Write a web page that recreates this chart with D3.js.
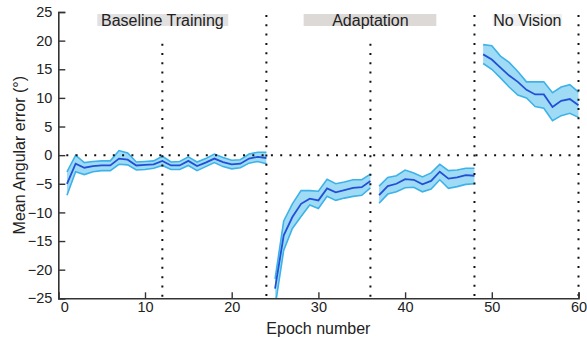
<!DOCTYPE html>
<html><head><meta charset="utf-8">
<script src="https://cdn.jsdelivr.net/npm/d3@7/dist/d3.min.js"></script>
<style>
body{margin:0;background:#fff;}
text{font-family:"Liberation Sans",Arial,sans-serif;fill:#222;}
</style></head>
<body><svg id="c" width="587" height="337"></svg>
<script>
// ---- data ----
const baseEpochs = d3.range(1, 25);
const baseMean  = [-5.0,-1.5,-2.2,-1.9,-1.8,-1.8,-0.6,-0.8,-1.8,-1.7,-1.6,-1.0,-1.8,-1.8,-1.0,-1.9,-1.3,-0.6,-1.2,-1.6,-1.5,-0.6,-0.3,-0.5];
const baseUpper = [-2.9,0.0,-1.3,-1.1,-1.0,-1.0,0.8,0.4,-1.2,-1.1,-1.0,-0.2,-1.2,-1.1,-0.3,-1.2,-0.6,0.2,-0.4,-0.9,-0.8,0.2,0.5,0.5];
const baseLower = [-7.0,-2.9,-3.4,-2.9,-2.7,-2.7,-1.6,-1.7,-2.6,-2.5,-2.3,-1.8,-2.5,-2.5,-1.8,-2.7,-2.0,-1.3,-2.0,-2.4,-2.2,-1.4,-1.1,-1.5];

const adaptAEpochs = d3.range(25, 37);
const adaptAMean  = [-23.3,-14.0,-10.8,-8.5,-7.6,-7.9,-5.8,-6.5,-6.1,-5.7,-5.6,-4.5];
const adaptAUpper = [-21.6,-11.5,-8.5,-6.2,-6.2,-6.3,-4.2,-5.0,-4.7,-4.3,-4.3,-3.3];
const adaptALower = [-26.5,-16.6,-12.8,-10.7,-8.7,-9.3,-7.2,-7.9,-7.5,-7.2,-7.0,-5.7];

const adaptBEpochs = d3.range(37, 49);
const adaptBMean  = [-7.0,-5.4,-5.0,-4.2,-4.3,-5.1,-4.5,-2.9,-4.1,-3.9,-3.5,-3.6];
const adaptBUpper = [-5.4,-3.9,-3.6,-2.6,-3.1,-3.8,-3.1,-1.6,-2.7,-2.6,-2.3,-2.3];
const adaptBLower = [-8.4,-6.8,-6.4,-5.7,-5.6,-6.4,-5.9,-4.3,-5.8,-5.5,-5.1,-5.0];

const noVisEpochs = d3.range(49, 61);
const noVisMean  = [17.6,16.7,15.3,13.9,12.8,11.4,10.6,10.6,8.4,9.5,9.8,8.7];
const noVisUpper = [19.3,19.1,17.3,16.2,14.6,12.8,12.8,12.8,10.9,11.9,12.3,11.0];
const noVisLower = [16.0,15.0,13.5,11.9,10.5,10.0,8.5,8.2,6.0,6.9,7.3,6.6];

const xTicks = [0,10,20,30,40,50,60];
const yTicks = [-25,-20,-15,-10,-5,0,5,10,15,20,25];
const phases = [
  {label:"Baseline Training", x:12.0, box:[4.5,19.6], fill:"#e2e1e1"},
  {label:"Adaptation", x:36.0, box:[28.3,43.6], fill:"#dcd9d7"},
  {label:"No Vision", x:54.1, box:[50.1,58.1], fill:"#f0f0f0"}
];
const fullLines = [24,48,60];
const partLines = [12,36];

// ---- chart ----
const svg = d3.select("#c");
const x = d3.scaleLinear().domain([0,60]).range([58.3,578.5]);
const y = d3.scaleLinear().domain([-25,25]).range([298.3,12]);

svg.append("defs").append("clipPath").attr("id","clip")
  .append("rect").attr("x",58.3).attr("y",12).attr("width",540).attr("height",286.3);

const segs = [
  [baseEpochs, baseMean, baseUpper, baseLower],
  [adaptAEpochs, adaptAMean, adaptAUpper, adaptALower],
  [adaptBEpochs, adaptBMean, adaptBUpper, adaptBLower],
  [noVisEpochs, noVisMean, noVisUpper, noVisLower]
];

const g = svg.append("g").attr("clip-path","url(#clip)");
segs.forEach(([ep, m, up, lo]) => {
  const pts = ep.map((e,i)=>({e, m:m[i], u:up[i], l:lo[i]}));
  g.append("path").datum(pts)
    .attr("d", d3.area().x(d=>x(d.e)).y0(d=>y(d.l)).y1(d=>y(d.u)))
    .attr("fill","#a0dbf6").attr("stroke","none");
  g.append("path").datum(pts)
    .attr("d", d3.line().x(d=>x(d.e)).y(d=>y(d.u)))
    .attr("fill","none").attr("stroke","#3db2e8").attr("stroke-width",1.6);
  g.append("path").datum(pts)
    .attr("d", d3.line().x(d=>x(d.e)).y(d=>y(d.l)))
    .attr("fill","none").attr("stroke","#3db2e8").attr("stroke-width",1.6);
  g.append("path").datum(pts)
    .attr("d", d3.line().x(d=>x(d.e)).y(d=>y(d.m)))
    .attr("fill","none").attr("stroke","#2150d6").attr("stroke-width",1.8);
});

// dotted reference lines
const dot = sel => sel.attr("stroke","#111").attr("stroke-width",2).attr("stroke-dasharray","2,7.3");
svg.append("line").attr("x1",x(0)+8).attr("x2",x(60.3)).attr("y1",y(0)).attr("y2",y(0)).call(dot);
fullLines.forEach(v=>svg.append("line").attr("x1",x(v)).attr("x2",x(v)).attr("y1",15).attr("y2",y(-25)).call(dot));
partLines.forEach(v=>svg.append("line").attr("x1",x(v)).attr("x2",x(v)).attr("y1",y(20)+3).attr("y2",y(-25)).call(dot));

// phase labels
phases.forEach(p=>{
  svg.append("rect").attr("x",x(p.box[0])).attr("width",x(p.box[1])-x(p.box[0]))
    .attr("y",14).attr("height",12).attr("fill",p.fill);
  svg.append("text").attr("x",x(p.x)).attr("y",25.5).attr("text-anchor","middle")
    .attr("font-size",16).text(p.label);
});

// axes
const xAxis = svg.append("g").attr("transform",`translate(0,${y(-25)})`)
  .call(d3.axisBottom(x).tickValues(xTicks).tickSize(-6).tickPadding(3));
const yAxis = svg.append("g").attr("transform",`translate(${x(0)},0)`)
  .call(d3.axisLeft(y).tickValues(yTicks).tickSize(-7).tickPadding(6));
[xAxis,yAxis].forEach(a=>{
  a.select(".domain").attr("stroke","#333").attr("stroke-width",1.6);
  a.selectAll(".tick line").attr("stroke","#333").attr("stroke-width",1.4);
  a.selectAll(".tick text").attr("font-size",14.5).attr("fill","#222")
    .attr("font-family","'Liberation Sans',Arial,sans-serif");
});
xAxis.selectAll(".tick text").filter(d=>d===0).attr("dx",6);

svg.append("text").attr("x",x(30)).attr("y",333.5).attr("text-anchor","middle")
  .attr("font-size",16).text("Epoch number");
svg.append("text").attr("transform",`translate(25,${y(0)}) rotate(-90)`)
  .attr("text-anchor","middle").attr("font-size",16).text("Mean Angular error (°)");
</script></body></html>
